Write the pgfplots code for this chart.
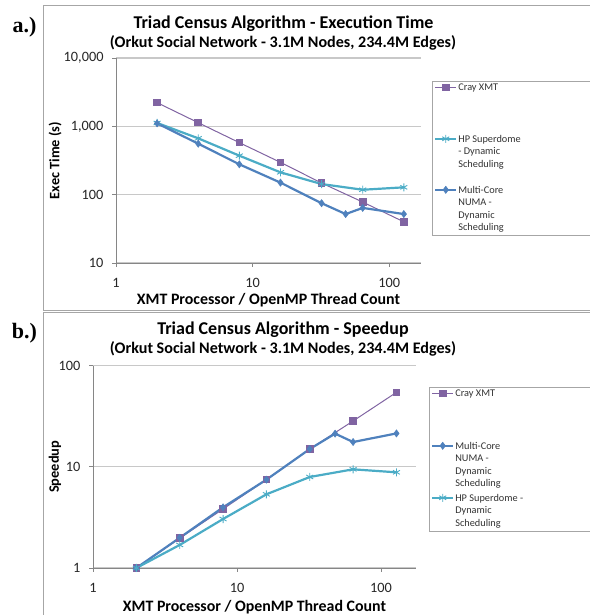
\documentclass[border=0pt]{standalone}
\usepackage{fontspec}
\setmainfont{Carlito}
\newfontfamily\timesfont{Liberation Serif}
\usepackage{pgfplots}
\pgfplotsset{compat=1.18}
\definecolor{cray}{HTML}{8064A2}
\definecolor{hp}{HTML}{4BACC6}
\definecolor{mc}{HTML}{4F81BD}
\definecolor{gridc}{HTML}{C8C8C8}
\definecolor{axisc}{HTML}{868686}
\definecolor{framec}{HTML}{A6A6A6}
\pgfplotsset{
  myexcel/.style={
    scale only axis,
    axis lines*=left, axis line style={axisc, line width=0.9pt},
    xminorticks=false, yminorticks=false,
    ymajorgrids, grid style={gridc, line width=1.2pt},
    tick align=outside, major tick length=4pt, tick style={axisc, line width=0.9pt},
    xtick={1,10,100}, xticklabels={1,10,100},
    tick label style={font=\fontsize{14.3}{16}\selectfont, color=black!85},
    xticklabel style={yshift=-8pt},
    yticklabel style={xshift=-5pt},
    clip=false,
    legend style={draw=framec, fill=white, inner xsep=2pt, inner ysep=2pt,
      font=\fontsize{10.3}{12.4}\selectfont, row sep=0pt,
      nodes={inner sep=1pt, text depth=}, cells={anchor=base west}, text=black!80},
    legend image code/.code={\draw[mark repeat=2, mark phase=2, yshift=3.5pt]
      plot coordinates {(0pt,0pt) (10.5pt,0pt) (21pt,0pt)};},
    every axis x label/.style={anchor=center, font=\bfseries\fontsize{15.9}{16}\selectfont},
    every axis y label/.style={anchor=center, rotate=90, font=\bfseries\fontsize{14.4}{16}\selectfont},
  },
  crayst/.style={cray, line width=1pt, mark=square*, mark size=3.3pt, mark options={solid, fill=cray}},
  hpst/.style={hp, line width=2.2pt, mark=asterisk, mark size=4pt, mark options={solid, line width=0.9pt}},
  mcst/.style={mc, line width=2.2pt, mark=diamond*, mark size=3.6pt, mark options={solid, fill=mc, line width=0.5pt}},
}
\begin{document}
\begin{tikzpicture}
\useasboundingbox (0pt,0pt) rectangle (589pt,615pt);
% panel frames
\draw[framec, line width=0.8pt] (600pt,609.3pt) -- (43pt,609.3pt) -- (43pt,305pt) -- (600pt,305pt);
\draw[framec, line width=0.8pt] (600pt,303pt) -- (43pt,303pt) -- (43pt,-5pt);
\node[font=\timesfont\bfseries\fontsize{22}{22}\selectfont] at (24.5pt,588pt) {a.)};
\node[font=\timesfont\bfseries\fontsize{22}{22}\selectfont] at (24.5pt,282pt) {b.)};
\node[font=\bfseries\fontsize{18}{19}\selectfont] at (283.5pt,591pt) {Triad Census Algorithm - Execution Time};
\node[font=\bfseries\fontsize{16.1}{17}\selectfont] at (283pt,572pt) {(Orkut Social Network - 3.1M Nodes, 234.4M Edges)};
\node[font=\bfseries\fontsize{18}{19}\selectfont] at (283pt,285pt) {Triad Census Algorithm - Speedup};
\node[font=\bfseries\fontsize{16.1}{17}\selectfont] at (283pt,266pt) {(Orkut Social Network - 3.1M Nodes, 234.4M Edges)};

\begin{loglogaxis}[myexcel, at={(116pt,352pt)}, anchor=south west,
  width=305pt, height=205pt,
  xmin=1, xmax=171, ymin=10, ymax=10000,
  ytick={10,100,1000,10000}, yticklabels={10,100,{1,000},{10,000}},
  xlabel={XMT Processor / OpenMP Thread Count},
  ylabel={Exec Time (s)},
  xlabel style={at={(axis description cs:0.5,-0.1805)}},
  ylabel style={at={(axis description cs:-0.2,0.5)}},
  legend style={at={(axis description cs:1.036,0.888)}, anchor=north west},
]
\addplot[crayst] coordinates {(2,2220) (4,1130) (8,577) (16,297) (32,148) (64,78) (128,40)};
\addlegendentry{\parbox[t][49pt][t]{130pt}{Cray XMT}}
\addplot[hpst] coordinates {(2,1120) (4,667) (8,372) (16,212) (32,143) (64,118) (128,128)};
\addlegendentry{\parbox[t][49pt][t]{130pt}{HP Superdome\\- Dynamic\\Scheduling}}
\addplot[mcst] coordinates {(2,1105) (4,557) (8,278) (16,150) (32,75) (48,52) (64,64) (128,52)};
\addlegendentry{\parbox[t]{130pt}{Multi-Core\\NUMA -\\Dynamic\\Scheduling}}
\end{loglogaxis}

\begin{loglogaxis}[myexcel, at={(93pt,47pt)}, anchor=south west,
  width=323pt, height=202.3pt,
  xmin=1, xmax=175, ymin=1, ymax=100,
  ytick={1,10,100}, yticklabels={1,10,100},
  xlabel={XMT Processor / OpenMP Thread Count},
  ylabel={Speedup},
  xlabel style={at={(axis description cs:0.5,-0.1928)}},
  ylabel style={at={(axis description cs:-0.1176,0.5)}},
  legend style={at={(axis description cs:1.040,0.895)}, anchor=north west},
]
\addplot[crayst] coordinates {(2,1) (4,1.97) (8,3.83) (16,7.47) (32,15) (64,28.4) (128,54.5)};
\addlegendentry{\parbox[t][50pt][t]{135pt}{Cray XMT}}
\addplot[mcst] coordinates {(2,1) (4,1.99) (8,3.98) (16,7.47) (32,15) (48,21.3) (64,17.6) (128,21.4)};
\addlegendentry{\parbox[t][50pt][t]{135pt}{Multi-Core\\NUMA -\\Dynamic\\Scheduling}}
\addplot[hpst] coordinates {(2,1) (4,1.69) (8,3.05) (16,5.35) (32,7.94) (64,9.45) (128,8.83)};
\addlegendentry{\parbox[t]{135pt}{HP Superdome -\\Dynamic\\Scheduling}}
\end{loglogaxis}
\end{tikzpicture}
\end{document}
